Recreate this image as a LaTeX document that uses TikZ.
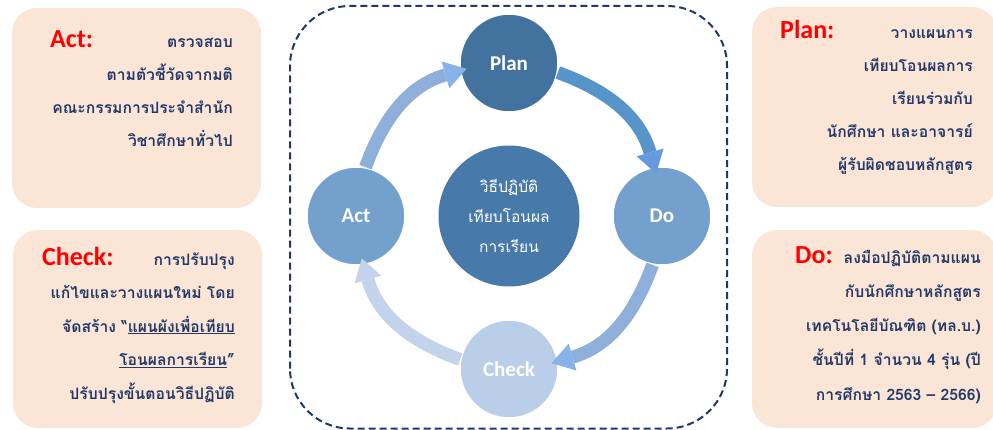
\documentclass[tikz,border=0pt]{standalone}
\usepackage{fontspec}
\setmainfont{Carlito}
\newfontfamily\thaifont[Script=Thai]{Loma}
\usetikzlibrary{arrows.meta}
\definecolor{panel}{HTML}{FBE5D6}
\definecolor{ink}{HTML}{243A68}
\definecolor{navy}{HTML}{1F3864}
\definecolor{plancol}{HTML}{44729E}
\definecolor{corecol}{HTML}{487AA9}
\definecolor{sidecol}{HTML}{73A0CD}
\definecolor{checkcol}{HTML}{B9CEE8}
\definecolor{arrowa}{HTML}{5794CA}
\definecolor{tipa}{HTML}{6699E0}
\definecolor{arrowb}{HTML}{8EAFDA}
\definecolor{tipb}{HTML}{8AB2EA}
\definecolor{arrowc}{HTML}{C2D3EB}
\begin{document}
\begin{tikzpicture}[x=1pt,y=1pt,line join=round,
  phase/.style={circle,fill=#1,draw=white,line width=1.5pt,minimum size=98pt,inner sep=0pt,
    text=white,font=\bfseries\fontsize{21}{24}\selectfont},
  cyc/.style 2 args={draw=#1,line width=13pt,
    -{Triangle[width=28pt,length=22pt,line width=0pt,color=#2]},shorten >=-7pt},
  title/.style={anchor=base west,inner sep=0pt,text=red,font=\bfseries\fontsize{26}{30}\selectfont},
  body/.style={anchor=base east,inner sep=0pt,text=ink,font=\thaifont\bfseries\fontsize{15.7}{18}\selectfont}]
\useasboundingbox (0,0) rectangle (993,429);
% side panels
\fill[panel,rounded corners=25pt] (12,221) rectangle (261,421);
\fill[panel,rounded corners=25pt] (13,1) rectangle (262,199);
\fill[panel,rounded corners=25pt] (752,222) rectangle (997,422);
\fill[panel,rounded corners=25pt] (752,1) rectangle (997,199);
% dashed frame
\draw[navy,line width=2pt,dash pattern=on 7pt off 4pt,rounded corners=60pt] (290,0.5) rectangle (727,423);
% cycle
\node[circle,fill=corecol,minimum size=141pt,inner sep=0pt,text=white,align=center,
  font=\thaifont\fontsize{15.5}{30}\selectfont] (core) at (509,213) {วิธีปฏิบัติ\\เทียบโอนผล\\การเรียน};
\node[phase=plancol] (plan) at (509,366) {Plan};
\node[phase=sidecol] (do) at (662,213) {Do};
\node[phase=checkcol] (check) at (509,60) {Check};
\node[phase=sidecol] (act) at (356,213) {Act};
\draw[cyc={arrowa}{tipa}] (plan.-11) to[out=-20,in=106] (do.99);
\draw[cyc={arrowb}{tipb}] (do.-101) to[out=-110,in=16] (check.9);
\draw[cyc={arrowc}{arrowc}] (check.169) to[out=160,in=-74] (act.-81);
\draw[cyc={arrowb}{tipb}] (act.79) to[out=70,in=196] (plan.189);
% texts
\node[title] (acttitle) at (50,381) {Act:};
\foreach \t [count=\i] in {ตรวจสอบ,ตามตัวชี้วัดจากมติ,คณะกรรมการประจำสำนัก,วิชาศึกษาทั่วไป}
  \node[body] (act-\i) at (233,{381-33*(\i-1)}) {\t};
\node[title] (checktitle) at (42,164) {Check:};
\foreach \t [count=\i] in {การปรับปรุง,แก้ไขและวางแผนใหม่ โดย,{จัดสร้าง “\underline{แผนผังเพื่อเทียบ}}, {\underline{โอนผลการเรียน}”},ปรับปรุงขั้นตอนวิธีปฏิบัติ}
  \node[body] (check-\i) at (235,{164-33.5*(\i-1)}) {\t};
\node[title] (plantitle) at (780,390) {Plan:};
\foreach \t [count=\i] in {วางแผนการ,เทียบโอนผลการ,เรียนร่วมกับ,นักศึกษา และอาจารย์,ผู้รับผิดชอบหลักสูตร}
  \node[body] (plan-\i) at (973,{390-33*(\i-1)}) {\t};
\node[title] (dotitle) at (795,166) {Do:};
\foreach \t [count=\i] in {ลงมือปฏิบัติตามแผน,กับนักศึกษาหลักสูตร,เทคโนโลยีบัณฑิต (ทล.บ.),ชั้นปีที่ 1 จำนวน 4 รุ่น (ปี,การศึกษา 2563 – 2566)}
  \node[body] (do-\i) at (981,{166-34.25*(\i-1)}) {\t};
\end{tikzpicture}
\end{document}
